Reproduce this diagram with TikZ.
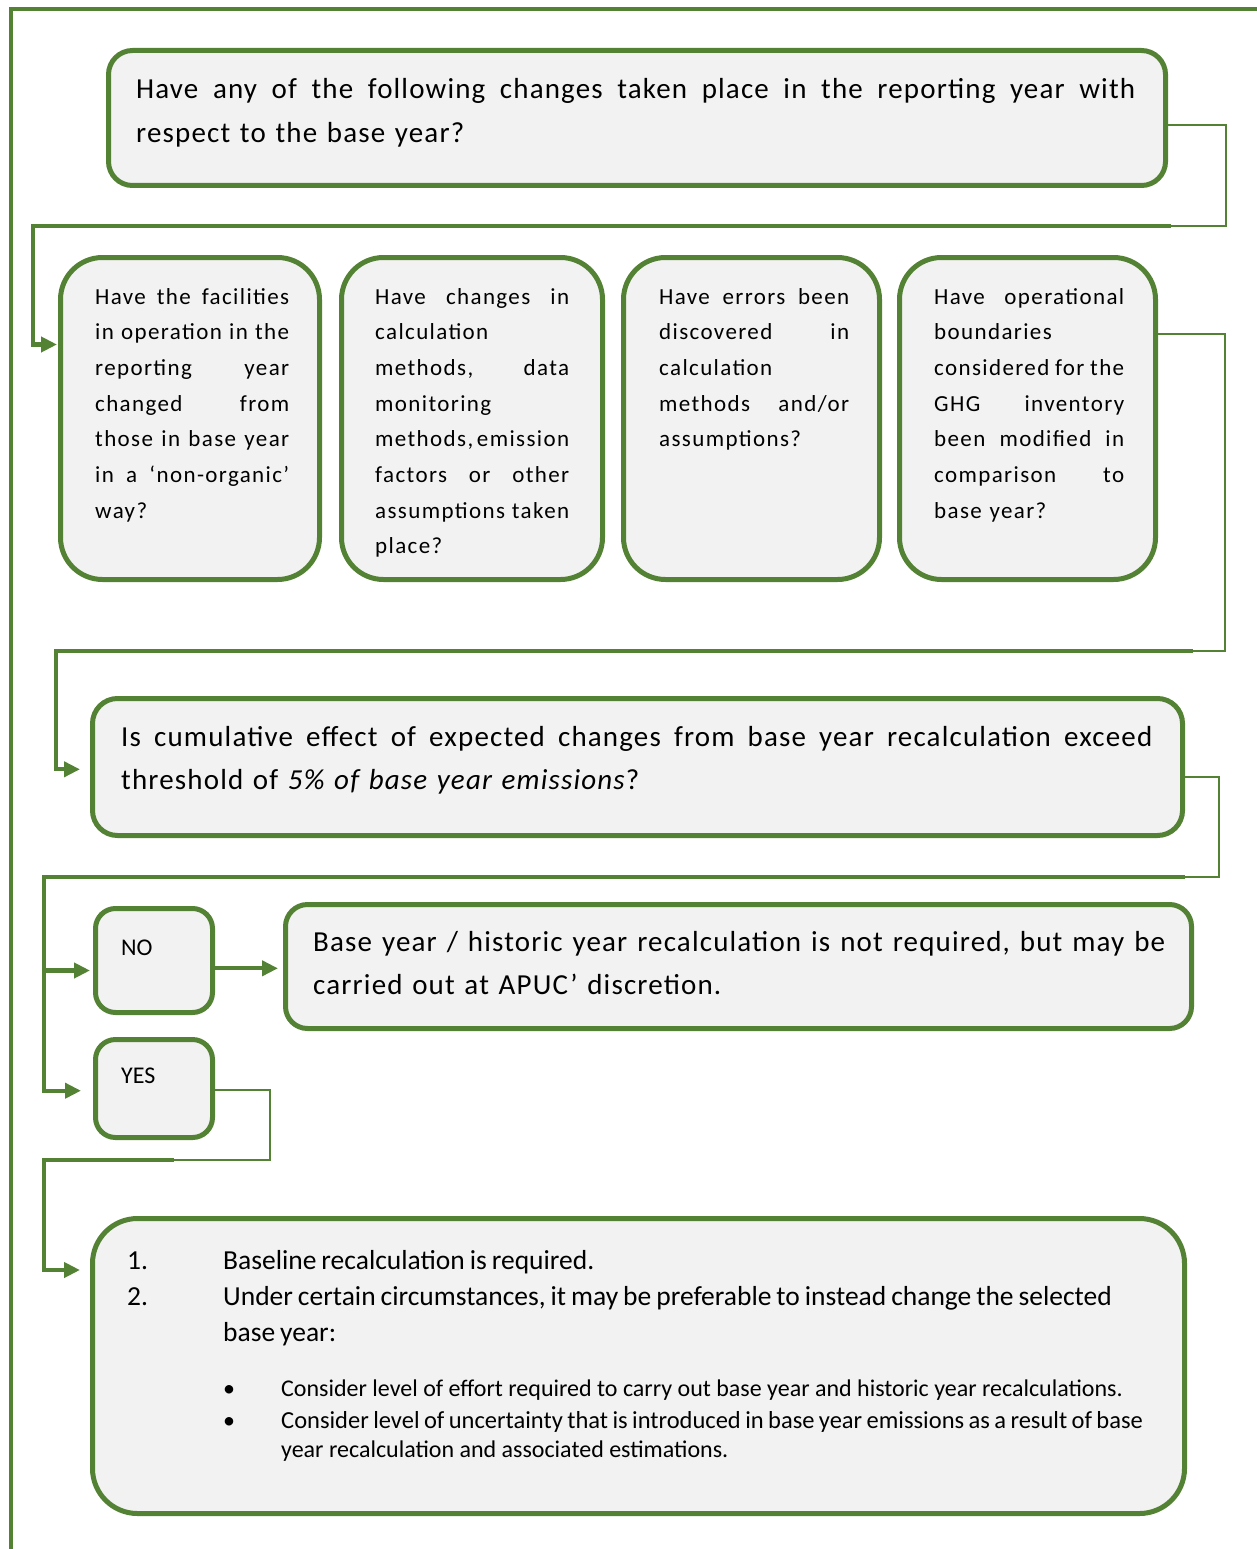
\documentclass[tikz,border=0pt]{standalone}
\usepackage{fontspec}
\setmainfont{Carlito}
\newfontfamily\bigf[LetterSpace=4]{Carlito}
\newfontfamily\smallf[LetterSpace=6]{Carlito}
\newfontfamily\numf[WordSpace=0.85]{Carlito}
\newfontfamily\tightf[WordSpace=0.8]{Carlito}
\newcommand{\jsp}{\hspace{0pt plus 1fill}}
\usetikzlibrary{arrows.meta}
\definecolor{grn}{RGB}{84,130,53}
\definecolor{boxfill}{RGB}{242,242,242}
\begin{document}
\begin{tikzpicture}[x=1pt,y=-1pt,
  box/.style={draw=grn, fill=boxfill, line width=5pt, rounded corners=#1, rectangle, inner sep=0pt},
  box/.default=25pt,
  txt/.style={anchor=base west, inner sep=0pt, align=left},
  bigtxt/.style={txt, font=\bigf\fontsize{29}{43.5}\selectfont},
  smtxt/.style={txt, font=\smallf\fontsize{23}{35.7}\selectfont, text width=#1},
  numtxt/.style={txt, font=\numf\fontsize{27.5}{36}\selectfont},
  bultxt/.style={txt, font=\fontsize{24}{29}\selectfont},
  thinc/.style={draw=grn, line width=2pt},
  thickc/.style={draw=grn, line width=4.3pt},
  arr/.style={-{Triangle[length=16pt,width=15pt]}},
  frame/.style={draw=grn, line width=4.3pt}]
\useasboundingbox (0,0) rectangle (1257,1549);

% outer frame
\coordinate (fA) at (11,1549);
\coordinate (fB) at (11,9);
\coordinate (fC) at (1257,9);
\draw[frame] (fA) -- (fB) -- (fC);

% boxes
\node[box=24pt, minimum width=1057pt, minimum height=135pt] (top) at (637,118) {};
\node[box=42pt, minimum width=259pt, minimum height=322pt] (b1) at (190,418.5) {};
\node[box=42pt, minimum width=261pt, minimum height=322pt] (b2) at (472,418.5) {};
\node[box=42pt, minimum width=256pt, minimum height=322pt] (b3) at (751.5,418.5) {};
\node[box=42pt, minimum width=256pt, minimum height=322pt] (b4) at (1027.5,418.5) {};
\node[box=25pt, minimum width=1090pt, minimum height=137pt] (thr) at (637.5,767) {};
\node[box=20pt, minimum width=117pt, minimum height=104pt] (no) at (154,960.5) {};
\node[box=20pt, minimum width=117pt, minimum height=98pt] (yes) at (154,1088.5) {};
\node[box=22pt, minimum width=906pt, minimum height=124pt] (base) at (738.5,966.5) {};
\node[box=45pt, minimum width=1092pt, minimum height=295pt] (bot) at (638.5,1366) {};

% texts
\node[bigtxt, text width=1005pt] (ttop) at (136,99)
 {\makebox[999pt][s]{Have\jsp any\jsp of\jsp the\jsp following\jsp changes\jsp taken\jsp place\jsp in\jsp the\jsp reporting\jsp year\jsp with}\\
  respect to the base year?};

\node[smtxt=200pt] (t1) at (95,304)
 {\makebox[194pt][s]{Have\jsp the\jsp facilities}\\
  \makebox[194pt][s]{in\jsp operation\jsp in\jsp the}\\
  \makebox[194pt][s]{reporting\jsp year}\\
  \makebox[194pt][s]{changed\jsp from}\\
  \makebox[194pt][s]{those\jsp in\jsp base\jsp year}\\
  \makebox[194pt][s]{in\jsp a\jsp ‘non-organic’}\\
  way?};
\node[smtxt=200pt] (t2) at (375,304)
 {\makebox[194pt][s]{Have\jsp changes\jsp in}\\
  calculation\\
  \makebox[194pt][s]{methods,\jsp data}\\
  monitoring\\
  \makebox[194pt][s]{methods,\jsp emission}\\
  \makebox[194pt][s]{factors\jsp or\jsp other}\\
  \makebox[194pt][s]{assumptions\jsp taken}\\
  place?};
\node[smtxt=196pt] (t3) at (659,304)
 {\makebox[190pt][s]{Have\jsp errors\jsp been}\\
  \makebox[190pt][s]{discovered\jsp in}\\
  calculation\\
  \makebox[190pt][s]{methods\jsp and/or}\\
  assumptions?};
\node[smtxt=196pt] (t4) at (934,304)
 {\makebox[190pt][s]{Have\jsp operational}\\
  boundaries\\
  \makebox[190pt][s]{considered\jsp for\jsp the}\\
  \makebox[190pt][s]{GHG\jsp inventory}\\
  \makebox[190pt][s]{been\jsp modified\jsp in}\\
  \makebox[190pt][s]{comparison\jsp to}\\
  base year?};

\node[bigtxt, text width=1040pt] (tthr) at (121,746)
 {\makebox[1031pt][s]{Is\jsp cumulative\jsp effect\jsp of\jsp expected\jsp changes\jsp from\jsp base\jsp year\jsp recalculation\jsp exceed}\\
  threshold of \textit{5\% of base year emissions}?};

\node[txt, font=\fontsize{24}{30}\selectfont] (tno) at (121,955) {NO};
\node[txt, font=\fontsize{24}{30}\selectfont] (tyes) at (121,1083) {YES};

\node[bigtxt, text width=860pt] (tbase) at (313,951)
 {\makebox[852pt][s]{Base\jsp year\jsp /\jsp historic\jsp year\jsp recalculation\jsp is\jsp not\jsp required,\jsp but\jsp may\jsp be}\\
  carried out at APUC’ discretion.};

% bottom box text, one node per line
\node[numtxt] (n1) at (127,1269) {1.};
\node[numtxt] (l1) at (223,1269) {Baseline recalculation is required.};
\node[numtxt] (n2) at (127,1305) {2.};
\node[numtxt] (l2a) at (223,1305) {Under certain circumstances, it may be preferable to instead change the selected};
\node[numtxt] (l2b) at (223,1341) {base year:};
\node[bultxt, anchor=base] (bu1) at (229,1396) {\textbullet};
\node[bultxt] (s1) at (281,1396)
 {Consider level of effort required to carry out base year and historic year recalculations.};
\node[bultxt, anchor=base] (bu2) at (229,1428) {\textbullet};
\node[bultxt, font=\tightf\fontsize{24.5}{29}\selectfont] (s2a) at (281,1428)
 {Consider level of uncertainty that is introduced in base year emissions as a result of base};
\node[bultxt] (s2b) at (281,1457) {year recalculation and associated estimations.};

% connectors
\coordinate (c1a) at (1226,226);
\coordinate (c1b) at (1171,226);
\coordinate (c1c) at (33,226);
\draw[thinc] ([yshift=-7pt]top.east) -| (c1a) -- (c1b);
\draw[thickc, arr, shorten >=1pt] (c1b) -- (c1c) |- ([yshift=74pt]b1.west);

\coordinate (c2a) at (1225,651);
\coordinate (c2b) at (1193,651);
\coordinate (c2c) at (56,651);
\draw[thinc] ([yshift=84.5pt]b4.east) -| (c2a) -- (c2b);
\draw[thickc, arr, shorten >=10pt] (c2b) -- (c2c) |- ([yshift=-2.3pt]thr.west);

\coordinate (c3a) at (1219,877);
\coordinate (c3b) at (1185,877);
\coordinate (c3c) at (44,877);
\draw[thinc] ([yshift=-10pt]thr.east) -| (c3a) -- (c3b);
\draw[thickc, arr, shorten >=12pt] (c3b) -- (c3c) |- ([yshift=-2.2pt]yes.west);
\coordinate (c3d) at (44,970.5);
\draw[thickc, arr, shorten >=3pt] (c3d) -- ([yshift=-10pt]no.west);

\coordinate (nob) at ([yshift=-7.8pt]no.east);
\draw[thickc, arr, shorten >=5pt] (nob) -- (nob -| base.west);

\coordinate (c5a) at (270,1160);
\coordinate (c5b) at (174,1160);
\coordinate (c5c) at (44,1160);
\draw[thinc] ([yshift=-1.5pt]yes.east) -| (c5a) -- (c5b);
\draw[thickc, arr, shorten >=10pt] (c5b) -- (c5c) |- ([yshift=96pt]bot.west);
\end{tikzpicture}
\end{document}
